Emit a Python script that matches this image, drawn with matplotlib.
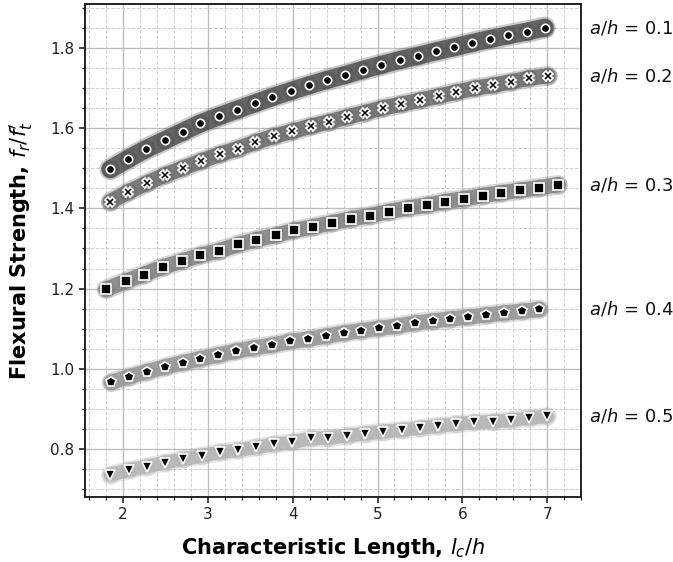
import matplotlib
matplotlib.use("Agg")
import matplotlib.pyplot as plt
from matplotlib.ticker import MultipleLocator

# ---- data ----
ratios = ["0.1", "0.2", "0.3", "0.4", "0.5"]

x_01 = [1.85, 2.06, 2.27, 2.49, 2.70, 2.91, 3.13, 3.34, 3.55, 3.76, 3.98, 4.19, 4.41,
        4.62, 4.83, 5.04, 5.26, 5.48, 5.69, 5.90, 6.12, 6.33, 6.54, 6.76, 6.97]
y_01 = [1.498, 1.524, 1.548, 1.570, 1.591, 1.612, 1.630, 1.646, 1.662, 1.678, 1.693, 1.707,
        1.721, 1.733, 1.746, 1.758, 1.770, 1.781, 1.792, 1.802, 1.813, 1.823, 1.832, 1.841, 1.851]

x_02 = [1.85, 2.06, 2.28, 2.49, 2.71, 2.92, 3.14, 3.35, 3.56, 3.78, 3.99, 4.21, 4.43,
        4.64, 4.85, 5.07, 5.28, 5.50, 5.72, 5.93, 6.15, 6.36, 6.58, 6.79, 7.01]
y_02 = [1.417, 1.441, 1.463, 1.483, 1.501, 1.518, 1.535, 1.549, 1.565, 1.580, 1.592, 1.605,
        1.616, 1.628, 1.639, 1.651, 1.660, 1.670, 1.680, 1.690, 1.700, 1.707, 1.716, 1.725, 1.731]

x_03 = [1.80, 2.03, 2.24, 2.47, 2.69, 2.91, 3.13, 3.36, 3.57, 3.80, 4.02, 4.24, 4.46,
        4.69, 4.91, 5.13, 5.36, 5.58, 5.80, 6.02, 6.24, 6.46, 6.68, 6.91, 7.13]
y_03 = [1.198, 1.218, 1.235, 1.254, 1.268, 1.283, 1.294, 1.310, 1.322, 1.333, 1.345, 1.354,
        1.364, 1.374, 1.382, 1.392, 1.401, 1.408, 1.417, 1.424, 1.432, 1.439, 1.445, 1.452, 1.459]

x_04 = [1.86, 2.07, 2.28, 2.49, 2.70, 2.91, 3.12, 3.33, 3.54, 3.76, 3.97, 4.18, 4.39,
        4.60, 4.81, 5.02, 5.23, 5.44, 5.65, 5.86, 6.07, 6.28, 6.49, 6.70, 6.91]
y_04 = [0.966, 0.980, 0.993, 1.004, 1.015, 1.025, 1.034, 1.044, 1.052, 1.059, 1.068, 1.074,
        1.081, 1.089, 1.095, 1.101, 1.106, 1.114, 1.119, 1.124, 1.129, 1.134, 1.139, 1.143, 1.148]

x_05 = [1.85, 2.07, 2.28, 2.49, 2.71, 2.93, 3.14, 3.36, 3.57, 3.78, 3.99, 4.21, 4.42,
        4.64, 4.85, 5.07, 5.29, 5.50, 5.71, 5.93, 6.14, 6.36, 6.58, 6.79, 7.00]
y_05 = [0.736, 0.747, 0.756, 0.766, 0.774, 0.783, 0.791, 0.797, 0.804, 0.811, 0.816, 0.826,
        0.827, 0.833, 0.838, 0.843, 0.847, 0.852, 0.857, 0.862, 0.866, 0.868, 0.872, 0.877, 0.881]

xs = [x_01, x_02, x_03, x_04, x_05]
ys = [y_01, y_02, y_03, y_04, y_05]

# ---- style ----
band_colors = ["#4c4c4c", "#666666", "#7c7c7c", "#939393", "#b2b2b2"]
band_widths = [13, 11, 11, 11, 10]
markers = ["o", "X", "s", "p", "v"]
msizes = [6, 7, 6.5, 7, 6.5]

fig = plt.figure(figsize=(6.73, 5.62), dpi=100)
ax = fig.add_axes([0.1263, 0.1157, 0.7370, 0.8772])

for x, y, c, w, m, ms, r in zip(xs, ys, band_colors, band_widths, markers, msizes, ratios):
    ax.plot(x, y, color=c, lw=w + 3, alpha=0.3, solid_capstyle="round", zorder=2)
    ax.plot(x, y, color=c, lw=w, alpha=0.8, solid_capstyle="round", zorder=2)
    ax.plot(x, y, ls="none", marker="o", ms=13, color=c, alpha=0.35,
            markeredgewidth=0, zorder=2)
    ax.plot(x, y, ls="none", marker=m, ms=ms, markerfacecolor="black",
            markeredgecolor="white", markeredgewidth=1.2, zorder=4)
    ax.text(7.49, y[-1], r"$a/h$ = " + r, fontsize=13, va="center", ha="left",
            color="#111111", clip_on=False)

ax.set_xlim(1.55, 7.4)
ax.set_ylim(0.68, 1.91)
ax.xaxis.set_major_locator(MultipleLocator(1))
ax.xaxis.set_minor_locator(MultipleLocator(0.2))
ax.yaxis.set_major_locator(MultipleLocator(0.2))
ax.yaxis.set_minor_locator(MultipleLocator(0.05))

ax.grid(which="major", color="#bdbdbd", lw=1.0, ls="-", zorder=0)
ax.grid(which="minor", color="#cfcfcf", lw=0.7, ls="--", zorder=0)
ax.set_axisbelow(True)

ax.tick_params(which="major", direction="out", length=4, width=1.2, labelsize=11,
               colors="#222222")
ax.tick_params(which="minor", direction="out", length=2.5, width=0.9, colors="#222222")
for s in ax.spines.values():
    s.set_linewidth(1.4)
    s.set_color("#222222")

ax.set_xlabel(r"Characteristic Length, $l_c/h$", fontsize=15, fontweight="bold",
              labelpad=10)
ax.set_ylabel(r"Flexural Strength, $f_r/f_t'$", fontsize=15, fontweight="bold",
              labelpad=11)

fig.savefig("out.png", dpi=100)
